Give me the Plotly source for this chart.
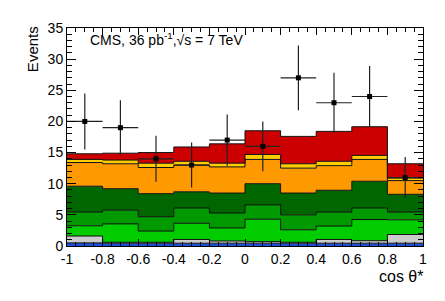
import plotly.graph_objects as go

bin_edges = [-1.0, -0.8, -0.6, -0.4, -0.2, 0.0, 0.2, 0.4, 0.6, 0.8, 1.0]
bin_centers = [-0.9, -0.7, -0.5, -0.3, -0.1, 0.1, 0.3, 0.5, 0.7, 0.9]
bin_half = [0.1] * 10

# stacked background components (bottom to top)
comp_blue = [0.5, 0.45, 0.45, 0.45, 0.45, 0.45, 0.45, 0.45, 0.45, 0.45]
comp_grey = [1.1, 0.15, 0.15, 0.6, 0.35, 0.25, 0.15, 0.6, 0.4, 1.4]
comp_lgreen = [1.65, 2.95, 1.8, 2.6, 2.1, 3.6, 2.0, 2.15, 3.4, 2.35]
comp_mgreen = [2.2, 2.2, 2.3, 2.45, 2.4, 2.3, 2.4, 2.25, 1.85, 1.25]
comp_dgreen = [4.15, 3.45, 3.7, 2.6, 3.2, 3.4, 3.5, 3.5, 4.3, 2.85]
comp_orange = [3.8, 4.0, 4.2, 4.3, 4.2, 3.9, 4.0, 3.95, 3.5, 2.2]
comp_yellow = [0.5, 0.6, 0.7, 0.6, 0.6, 0.8, 0.7, 0.7, 0.65, 0.4]
comp_red = [0.9, 1.1, 1.7, 2.3, 3.1, 3.8, 4.4, 4.8, 4.6, 2.3]

data_counts = [20, 19, 14, 13, 17, 16, 27, 23, 24, 11]
data_err = [4.5, 4.4, 3.7, 3.6, 4.1, 4.0, 5.2, 4.8, 4.9, 3.3]

x_tickvals = [-1, -0.8, -0.6, -0.4, -0.2, 0, 0.2, 0.4, 0.6, 0.8, 1]
x_ticktext = ["-1", "-0.8", "-0.6", "-0.4", "-0.2", "0", "0.2", "0.4", "0.6", "0.8", "1"]
y_tickvals = [0, 5, 10, 15, 20, 25, 30, 35]

components = [
    (comp_blue, "#1a4fd6"),
    (comp_grey, "#cccccc"),
    (comp_lgreen, "#00cc00"),
    (comp_mgreen, "#009900"),
    (comp_dgreen, "#006600"),
    (comp_orange, "#ff9900"),
    (comp_yellow, "#ffcc00"),
    (comp_red, "#cc0000"),
]

fig = go.Figure()
for vals, col in components:
    fig.add_trace(go.Scatter(
        x=bin_edges, y=vals + [vals[-1]],
        mode="lines", stackgroup="bkg",
        line=dict(shape="hv", color="#111111", width=1),
        fillcolor=col, hoverinfo="skip", showlegend=False,
    ))

fig.add_trace(go.Scatter(
    x=bin_centers, y=data_counts, mode="markers",
    marker=dict(symbol="square", size=5, color="black"),
    error_y=dict(type="data", array=data_err, color="#222222", thickness=1.2, width=0),
    error_x=dict(type="data", array=bin_half, color="#222222", thickness=1.2, width=0),
    showlegend=False,
))

font = "Liberation Sans, Arial, Helvetica, sans-serif"

fig.update_layout(
    width=437, height=293,
    margin=dict(l=59, r=22, t=15, b=55),
    paper_bgcolor="white", plot_bgcolor="white",
    font=dict(family=font, size=14, color="black"),
    showlegend=False,
    xaxis=dict(
        range=[-1, 1], tickmode="array", tickvals=x_tickvals, ticktext=x_ticktext,
        ticks="inside", ticklen=7, tickcolor="black", tickwidth=1,
        showline=True, linecolor="black", linewidth=1, mirror="ticks",
        showgrid=False, zeroline=False,
        minor=dict(dtick=0.05, tick0=-1, ticks="inside", ticklen=4, tickcolor="black", showgrid=False),
        tickfont=dict(size=14),
    ),
    yaxis=dict(
        range=[0, 35], tickmode="array", tickvals=y_tickvals,
        ticks="inside", ticklen=9, tickcolor="black", tickwidth=1,
        showline=True, linecolor="black", linewidth=1, mirror="ticks",
        showgrid=False, zeroline=False,
        minor=dict(dtick=1, tick0=0, ticks="inside", ticklen=5, tickcolor="black", showgrid=False),
        tickfont=dict(size=14),
    ),
    annotations=[
        dict(text="Events", textangle=-90, xref="paper", yref="paper",
             x=-0.098, y=0.9036, xanchor="center", yanchor="middle",
             showarrow=False, font=dict(size=15)),
        dict(text="cos θ*", xref="paper", yref="paper",
             x=1.006, y=-0.142, xanchor="right", yanchor="middle",
             showarrow=False, font=dict(size=16)),
        dict(text="CMS, 36 pb<sup>-1</sup>,√s = 7 TeV", xref="paper", yref="paper",
             x=0.06, y=0.948, xanchor="left", yanchor="middle",
             showarrow=False, font=dict(size=14)),
    ],
)

fig.write_html("out.html")
